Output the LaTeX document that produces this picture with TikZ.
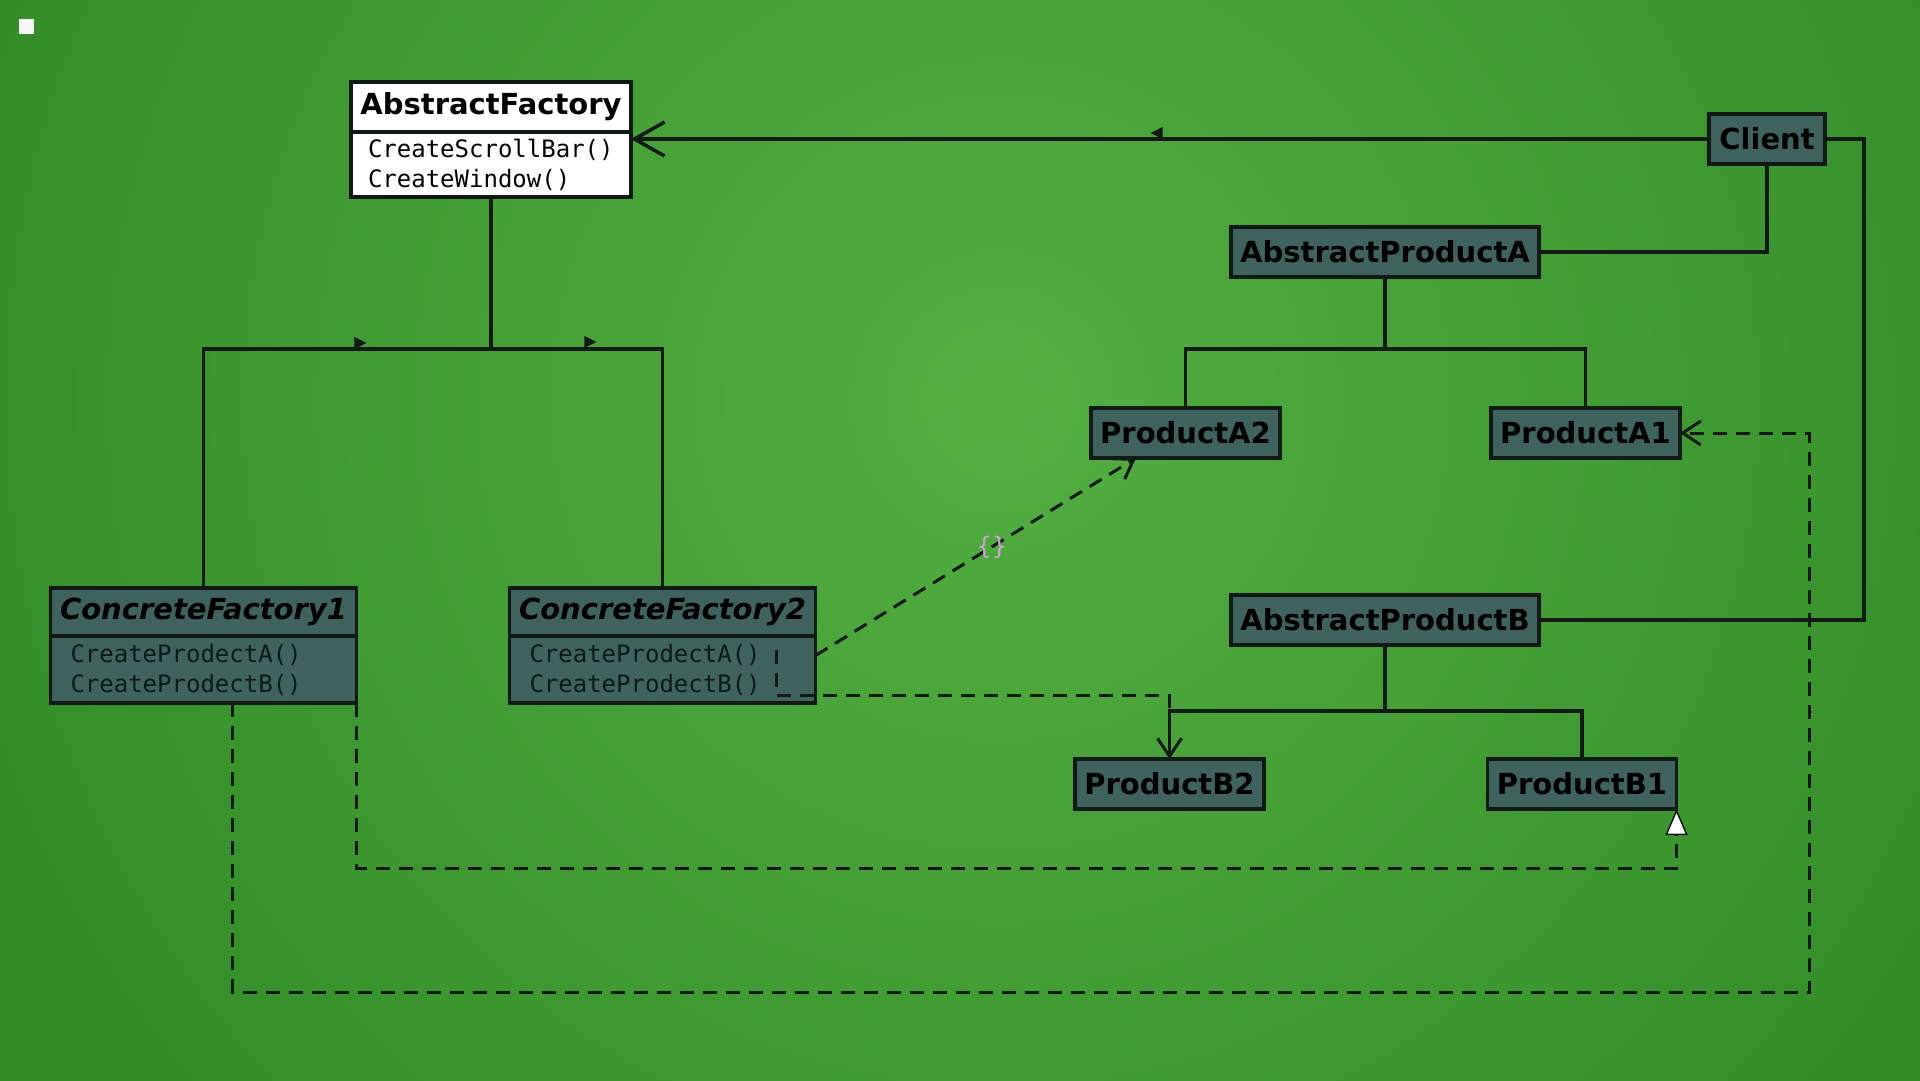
\documentclass[tikz,border=0pt]{standalone}
\usepackage{fontspec}
\setmainfont{DejaVu Sans}
\setmonofont{DejaVu Sans Mono}
\usetikzlibrary{calc,shapes,arrows.meta,positioning}
\definecolor{FieldGreen}{RGB}{84,174,66}
\definecolor{FieldDark}{RGB}{20,108,16}
\definecolor{SlateBox}{RGB}{62,98,93}
\definecolor{InkLine}{RGB}{18,26,20}
\definecolor{OpsInk}{RGB}{12,26,24}
\definecolor{BraceMauve}{RGB}{215,160,215}

\begin{document}
\begin{tikzpicture}[x=1pt, y=-1pt, node distance=400pt]
	\tikzstyle{classname} = [rectangle, draw=InkLine, line width=3.5pt, outer sep=0pt, inner sep=0pt, text=black, font=\fontsize{29}{34}\selectfont\bfseries]
	\tikzstyle{entity} = [classname, fill=SlateBox, minimum width=189pt, minimum height=50pt]
	\tikzstyle{abstract} = [entity, minimum width=308pt]
	\tikzstyle{concrete} = [classname, fill=SlateBox, minimum width=306pt, minimum height=48pt, font=\fontsize{29}{34}\selectfont\bfseries\itshape]
	\tikzstyle{ops} = [rectangle, draw=InkLine, line width=3.5pt, outer sep=0pt, inner xsep=20pt, inner ysep=0pt, align=left, font=\fontsize{24}{30}\selectfont\ttfamily]
	\tikzstyle{link} = [draw=InkLine, line width=3.5pt]
	\tikzstyle{depends} = [draw=InkLine, line width=3pt, dash pattern=on 14pt off 9pt, -{Straight Barb[length=18pt,width=24pt]}]
	\tikzstyle{realizes} = [draw=InkLine, line width=3pt, dash pattern=on 14pt off 9pt, -{Triangle[length=26pt,width=22pt,fill=white,line width=1.5pt]}]
	\tikzstyle{flag} = [isosceles triangle, isosceles triangle stretches, fill=InkLine, inner sep=0pt, minimum width=12pt, minimum height=12pt]

	\useasboundingbox (0,0) rectangle (1920,1080);
	\begin{scope}
		\clip (0,0) rectangle (1920,1080);
		\shade [inner color=FieldGreen, outer color=FieldDark] (1000,400) circle (2150pt);
	\end{scope}
	\node (icon) [rectangle, fill=white!94!gray, minimum size=15pt, inner sep=0pt] at (26,26) {};

	\node (af) [classname, fill=white, minimum width=280pt, minimum height=50pt] at (491,107) {AbstractFactory};
	\node (afops) [ops, fill=white, text=black, below=0pt of af, text width=246pt, inner xsep=17pt, minimum height=65pt] {CreateScrollBar()\\CreateWindow()};
	\node (cfone) [concrete] at (203.5,612) {ConcreteFactory1};
	\node (cfoneops) [ops, fill=SlateBox, text=OpsInk, below=0pt of cfone, text width=266pt, minimum height=67pt] {CreateProdectA()\\CreateProdectB()};
	\node (cftwo) [concrete, right of=cfone, xshift=59pt] {ConcreteFactory2};
	\node (cftwoops) [ops, fill=SlateBox, text=OpsInk, below=0pt of cftwo, text width=266pt, minimum height=67pt] {CreateProdectA()\\CreateProdectB()};
	\node (client) [entity, minimum width=116pt] at (1767,139) {Client};
	\node (apa) [abstract] at (1385,252) {AbstractProductA};
	\node (pa2) [entity] at (1185.5,433) {ProductA2};
	\node (pa1) [entity, right of=pa2] {ProductA1};
	\node (apb) [abstract, below of=apa, yshift=32pt] {AbstractProductB};
	\node (pb2) [entity] at (1169.5,784) {ProductB2};
	\node (pb1) [entity, right of=pb2, xshift=12.5pt] {ProductB1};

	\coordinate (afjoin) at (491,349);
	\draw [link] (afops.south) -- (afjoin) -| (cfone.north);
	\draw [link] (afjoin) -| (cftwo.north);
	\draw [link, -{Straight Barb[length=30pt,width=34pt]}] (client.west) -- (client.west -| afops.east);
	\draw [link] (client.south) |- (apa.east);
	\coordinate (clientturn) at (1864,139);
	\draw [link] (client.east) -- (clientturn) |- (apb.east);
	\draw [link] (apa.south) -- ++(0,72) -| (pa2.north);
	\draw [link] (apa.south) -- ++(0,72) -| (pa1.north);
	\draw [link] (apb.south) -- ++(0,66) -| (pb2.north);
	\draw [link] (apb.south) -- ++(0,66) -| (pb1.north);

	\draw [depends] ([yshift=14pt]cftwoops.east) -- ([xshift=45pt]pa2.south west) node (brace) [pos=0.55, text=BraceMauve, font=\fontsize{24}{24}\selectfont] {\{\}};
	\draw [depends] ([xshift=-39pt,yshift=20pt]cftwoops.east) -- ++(0,46) -| (pb2.north);
	\draw [realizes] (cfoneops.south east) -- ++(0,165) -| (pb1.south east);
	\coordinate (loopturn) at (1809,992);
	\draw [depends] ([xshift=29pt]cfoneops.south) |- (loopturn) |- (pa1.east);

	\node (flagleft) [flag] at (358,343) {};
	\node (flagright) [flag] at (588,342) {};
	\node (flagclient) [flag, shape border rotate=180] at (1159,133) {};
\end{tikzpicture}
\end{document}
